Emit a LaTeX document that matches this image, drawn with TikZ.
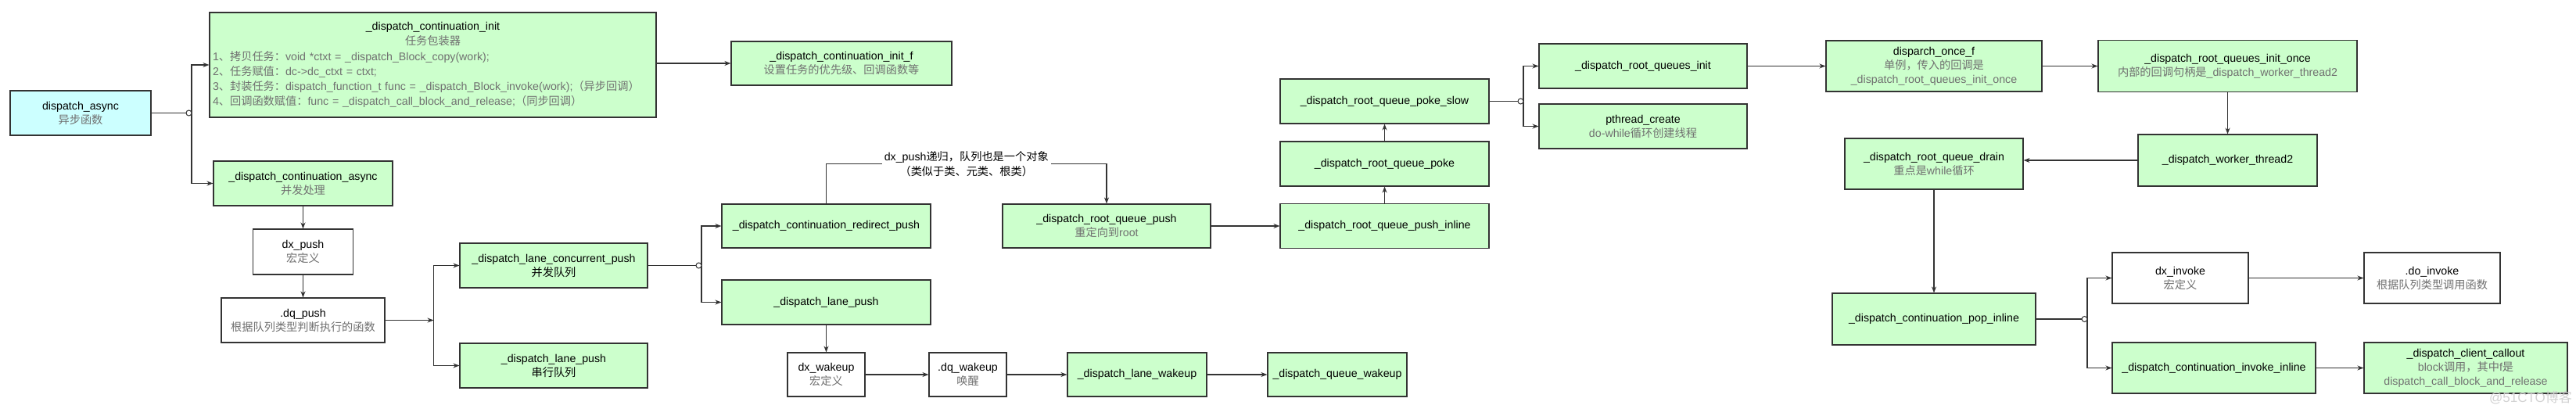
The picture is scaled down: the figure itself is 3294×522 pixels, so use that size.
\documentclass[tikz,border=0pt]{standalone}
\usepackage{fontspec}
\setmainfont{Liberation Sans}
\newfontfamily\cjkfont{Noto Sans CJK SC}
\usetikzlibrary{arrows.meta,positioning}

\definecolor{boxgreen}{HTML}{CCFFCC}
\definecolor{boxcyan}{HTML}{CCFFFF}
\definecolor{subgrey}{HTML}{707070}
\definecolor{edgegrey}{HTML}{333333}
\newcommand{\zh}[1]{{\cjkfont #1}}
\newcommand{\subtxt}[1]{{\color{subgrey}#1}}

\begin{document}
\begin{tikzpicture}[x=1pt,y=-1pt,
    box/.style={draw=edgegrey,line width=1.1pt,align=center,inner sep=2pt,
      font=\fontsize{14.2}{18}\selectfont},
    gbox/.style={box,fill=boxgreen},
    wbox/.style={box,fill=white},
    cbox/.style={box,fill=boxcyan},
    sz/.style 2 args={minimum width=#1pt,minimum height=#2pt},
    link/.style={draw=edgegrey,line width=1.1pt},
    arr/.style={link,-{Stealth[length=8pt,width=6pt]}},
    hub/.style={draw=edgegrey,line width=1pt,fill=white}]
  \useasboundingbox (0,0) rectangle (3294,522);

  % entry and task wrapper
  \node[cbox,sz={180}{57}] (async) at (103,144.5) {dispatch\_async\\\subtxt{\zh{异步函数}}};
  \node[gbox,sz={571}{134},align=left,text width=563pt,
    font=\fontsize{14.2}{19.3}\selectfont] (init) at (553.5,83) {%
    \makebox[563pt]{\_dispatch\_continuation\_init}\\
    \makebox[563pt]{\subtxt{\zh{任务包装器}}}\\
    \subtxt{1\zh{、拷贝任务：}void *ctxt = \_dispatch\_Block\_copy(work);}\\
    \subtxt{2\zh{、任务赋值：}dc->dc\_ctxt = ctxt;}\\
    \subtxt{3\zh{、封装任务：}dispatch\_function\_t func = \_dispatch\_Block\_invoke(work);\zh{（异步回调）}}\\
    \subtxt{4\zh{、回调函数赋值：}func = \_dispatch\_call\_block\_and\_release;\zh{（同步回调）}}};
  \node[gbox,sz={282}{56}] (initf) at (1076,81) {\_dispatch\_continuation\_init\_f\\\subtxt{\zh{设置任务的优先级、回调函数等}}};
  \node[gbox,sz={229}{57}] (contasync) at (387.5,234.5) {\_dispatch\_continuation\_async\\\subtxt{\zh{并发处理}}};
  \node[wbox,sz={128}{58}] (dxpush) at (387.5,322) {dx\_push\\\subtxt{\zh{宏定义}}};
  \node[wbox,sz={209}{57}] (dqpush) at (387.5,409.5) {.dq\_push\\\subtxt{\zh{根据队列类型判断执行的函数}}};

  % lane pushes
  \node[gbox,sz={240}{57}] (concpush) at (708,339.5) {\_dispatch\_lane\_concurrent\_push\\\zh{并发队列}};
  \node[gbox,sz={240}{57}] (serialpush) at (708,467.5) {\_dispatch\_lane\_push\\\zh{串行队列}};
  \node[gbox,sz={267}{56}] (redirect) at (1056.5,289) {\_dispatch\_continuation\_redirect\_push};
  \node[gbox,sz={267}{57}] (lanepush) at (1056.5,386.5) {\_dispatch\_lane\_push};
  \node[wbox,sz={99}{56}] (dxwakeup) at (1056.5,479) {dx\_wakeup\\\subtxt{\zh{宏定义}}};
  \node[wbox,sz={99}{56}] (dqwakeup) at (1237.5,479) {.dq\_wakeup\\\subtxt{\zh{唤醒}}};
  \node[gbox,sz={178}{56}] (lanewakeup) at (1454,479) {\_dispatch\_lane\_wakeup};
  \node[gbox,sz={178}{56}] (queuewakeup) at (1710,479) {\_dispatch\_queue\_wakeup};

  % root queue
  \node[gbox,sz={266}{56}] (rootpush) at (1415,289) {\_dispatch\_root\_queue\_push\\\subtxt{\zh{重定向到}root}};
  \node[gbox,sz={267}{57}] (pushinline) at (1770.5,289) {\_dispatch\_root\_queue\_push\_inline};
  \node[gbox,sz={267}{57}] (poke) at (1770.5,209.5) {\_dispatch\_root\_queue\_poke};
  \node[gbox,sz={267}{57}] (pokeslow) at (1770.5,129.5) {\_dispatch\_root\_queue\_poke\_slow};
  \node[gbox,sz={266}{57}] (rootsinit) at (2101,84.5) {\_dispatch\_root\_queues\_init};
  \node[gbox,sz={266}{57}] (pthread) at (2101,161.5) {pthread\_create\\\subtxt{do-while\zh{循环创建线程}}};
  \node[gbox,sz={276}{65}] (oncef) at (2473,84.5) {disparch\_once\_f\\\subtxt{\zh{单例，传入的回调是}}\\\subtxt{\_dispatch\_root\_queues\_init\_once}};
  \node[gbox,sz={331}{66}] (initonce) at (2848.5,84.5) {\_dispatch\_root\_queues\_init\_once\\\subtxt{\zh{内部的回调句柄是}\_dispatch\_worker\_thread2}};
  \node[gbox,sz={229}{66}] (worker) at (2848.5,205) {\_dispatch\_worker\_thread2};
  \node[gbox,sz={228}{65}] (drain) at (2473,209.5) {\_dispatch\_root\_queue\_drain\\\subtxt{\zh{重点是}while\zh{循环}}};

  % invoke
  \node[gbox,sz={260}{66}] (popinline) at (2473,408) {\_dispatch\_continuation\_pop\_inline};
  \node[wbox,sz={174}{65}] (dxinvoke) at (2788,355.5) {dx\_invoke\\\subtxt{\zh{宏定义}}};
  \node[wbox,sz={174}{65}] (doinvoke) at (3110,355.5) {.do\_invoke\\\subtxt{\zh{根据队列类型调用函数}}};
  \node[gbox,sz={260}{65}] (invokeinline) at (2831,470.5) {\_dispatch\_continuation\_invoke\_inline};
  \node[gbox,sz={260}{65}] (callout) at (3153,470.5) {\_dispatch\_client\_callout\\\subtxt{block\zh{调用，其中}f\zh{是}}\\\subtxt{dispatch\_call\_block\_and\_release}};
  \node[text=black!18,font=\fontsize{17}{17}\selectfont,anchor=south east,inner sep=1pt] (mark) at (3290,518) {@51CTO\zh{博客}};

  % connectors
  \coordinate (hubA) at (245,144.5);
  \draw[link] (async.east) -- (hubA);
  \draw[arr] (hubA) |- (init.west);
  \draw[arr] (hubA) |- (contasync.west);
  \draw[arr] (init.east |- initf) -- (initf.west);
  \draw[arr] (contasync.south) -- (dxpush.north);
  \draw[arr] (dxpush.south) -- (dqpush.north);
  \draw[arr] (dqpush.east) -- ++(62,0) coordinate (hubB);
  \draw[arr] (hubB) |- (concpush.west);
  \draw[arr] (hubB) |- (serialpush.west);
  \coordinate (hubC) at (897,339.5);
  \draw[link] (concpush.east) -- (hubC);
  \draw[arr] (hubC) |- (redirect.west);
  \draw[arr] (hubC) |- (lanepush.west);
  \draw[arr] (redirect.north) -- ++(0,-51) -| node[pos=0.25,fill=white,align=center,inner sep=3pt,
    font=\fontsize{14.2}{19}\selectfont] (recursion) {dx\_push\zh{递归，队列也是一个对象}\\\zh{（类似于类、元类、根类）}} (rootpush.north);
  \draw[arr] (lanepush.south) -- (dxwakeup.north);
  \draw[arr] (dxwakeup.east) -- (dqwakeup.west);
  \draw[arr] (dqwakeup.east) -- (lanewakeup.west);
  \draw[arr] (lanewakeup.east) -- (queuewakeup.west);
  \draw[arr] (rootpush.east) -- (pushinline.west);
  \draw[arr] (pushinline.north) -- (poke.south);
  \draw[arr] (poke.north) -- (pokeslow.south);
  \coordinate (hubD) at (1948,129.5);
  \draw[link] (pokeslow.east) -- (hubD);
  \draw[arr] (hubD) |- (rootsinit.west);
  \draw[arr] (hubD) |- (pthread.west);
  \draw[arr] (rootsinit.east) -- (oncef.west);
  \draw[arr] (oncef.east) -- (initonce.west);
  \draw[arr] (initonce.south) -- (worker.north);
  \draw[arr] (worker.west) -- (worker.west -| drain.east);
  \draw[arr] (drain.south) -- (popinline.north);
  \coordinate (hubE) at (2669,408);
  \draw[link] (popinline.east) -- (hubE);
  \draw[arr] (hubE) |- (dxinvoke.west);
  \draw[arr] (hubE) |- (invokeinline.west);
  \draw[arr] (dxinvoke.east) -- (doinvoke.west);
  \draw[arr] (invokeinline.east) -- (callout.west);

  % hollow joints
  \foreach \j in {hubA,hubC,hubD,hubE}
    \draw[hub] ([xshift=-3.5pt]\j) circle (3.5);
\end{tikzpicture}
\end{document}
